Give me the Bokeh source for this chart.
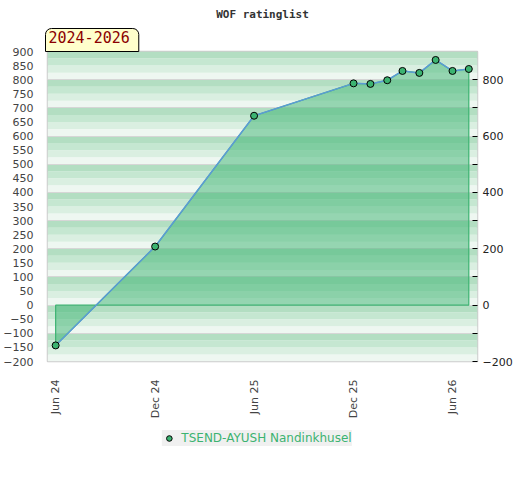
import numpy as np
import pandas as pd
from bokeh.plotting import figure
from bokeh.layouts import column
from bokeh.models import (Range1d, LinearAxis, FixedTicker, DatetimeTickFormatter,
                          Title, Legend, LegendItem, ColumnDataSource)
from bokeh.embed import file_html
from bokeh.resources import INLINE

# ---- data ----
dates = ["2024-06-01", "2024-12-01", "2025-06-01", "2025-12-01", "2026-01-01",
         "2026-02-01", "2026-03-01", "2026-04-01", "2026-05-01", "2026-06-01",
         "2026-07-01"]
ratings = [-143, 208, 672, 787, 785, 798, 831, 824, 870, 831, 838]
tick_dates = ["2024-06-01", "2024-12-01", "2025-06-01", "2025-12-01", "2026-06-01"]
player = "TSEND-AYUSH Nandinkhusel"
period = "2024-2026"
chart_title = "WOF ratinglist"
y_min, y_max = -200, 900
left_ticks = list(range(-200, 901, 50))
right_ticks = list(range(-200, 801, 200))
right_minor = list(range(-100, 801, 200))

xd = pd.to_datetime(dates)
x_start = xd[0] - pd.Timedelta(days=15)
x_end = xd[-1] + pd.Timedelta(days=16)

p = figure(x_axis_type="datetime", frame_width=430, frame_height=310,
           min_border_left=37, min_border_right=37, min_border_top=0,
           min_border_bottom=0,
           x_range=Range1d(x_start, x_end), y_range=Range1d(y_min, y_max),
           toolbar_location=None, output_backend="svg")
p.outline_line_color = "#cccccc"
p.outline_line_width = 1.5
p.xgrid.visible = False
p.ygrid.visible = False

# ---- background stripes ----
stripe_colors = ["#eef7f1", "#daefe1", "#c5e7d1", "#b3dec2"]
bottoms = np.arange(y_min, y_max, 25)
cols = [stripe_colors[int(((b - y_min) // 25) % 4)] for b in bottoms]
p.quad(left=x_start, right=x_end, bottom=bottoms, top=bottoms + 25,
       fill_color=cols, line_color=None)
p.hspan(y=list(range(y_min + 100, y_max, 100)), line_color="#d6d6d6", line_width=1)

# ---- area ----
area_x = [xd[0]] + list(xd) + [xd[-1]]
area_y = [0] + ratings + [0]
p.patch(area_x, area_y, fill_color="#3cb371", fill_alpha=0.5,
        line_color="#3cb371", line_width=1.2)

src = ColumnDataSource(dict(x=xd, y=ratings))
p.line("x", "y", source=src, line_color="#5b9bd5", line_width=1.5)
p.scatter("x", "y", source=src, size=7, fill_color="#3cb371",
          line_color="black", line_width=1)

# ---- axes ----
ya = p.yaxis[0]
ya.ticker = FixedTicker(ticks=left_ticks)
ya.axis_line_color = None
ya.major_tick_line_color = None
ya.minor_tick_line_color = None
ya.major_label_text_font = "DejaVu Sans"
ya.major_label_text_font_size = "11px"
ya.major_label_text_color = "#444444"
ya.major_label_standoff = 8

ra = LinearAxis(ticker=FixedTicker(ticks=right_ticks, minor_ticks=right_minor))
ra.axis_line_color = None
ra.major_tick_in = 5
ra.major_tick_out = 0
ra.minor_tick_in = 5
ra.minor_tick_out = 0
ra.major_tick_line_color = "black"
ra.minor_tick_line_color = "black"
ra.major_label_text_font = "DejaVu Sans"
ra.major_label_text_font_size = "11px"
ra.major_label_text_color = "#222222"
ra.major_label_standoff = 5
p.add_layout(ra, "right")

xa = p.xaxis[0]
tick_ms = [pd.Timestamp(d).value // 10**6 for d in tick_dates]
xa.ticker = FixedTicker(ticks=tick_ms)
fmt = "%b %y"
xa.formatter = DatetimeTickFormatter(days=fmt, months=fmt, years=fmt, hours=fmt)
xa.major_label_orientation = np.pi / 2
xa.axis_line_color = None
xa.major_tick_line_color = None
xa.minor_tick_line_color = None
xa.major_label_text_font = "DejaVu Sans"
xa.major_label_text_font_size = "11px"
xa.major_label_text_color = "#444444"
xa.major_label_standoff = 12

# ---- titles ----
badge = Title(text=period, align="left", text_font="DejaVu Sans Mono",
              text_font_size="15px", text_font_style="normal", text_color="#8b0000",
              background_fill_color="#ffffcc", border_line_color="black",
              border_line_width=1, padding=(3, 9, 2, 9), border_radius=(6, 6, 0, 0),
              standoff=0, offset=-2)
main = Title(text=chart_title, align="center", text_font="DejaVu Sans Mono",
             text_font_size="11px", text_font_style="bold", text_color="#333333",
             standoff=11)
p.add_layout(badge, "above")
p.add_layout(main, "above")

# ---- legend (separate strip below the chart) ----
p2 = figure(width=504, height=56, min_border=0, toolbar_location=None,
            output_backend="svg", x_axis_location=None, y_axis_location=None)
p2.outline_line_color = None
p2.xgrid.visible = False
p2.ygrid.visible = False
leg_r = p2.scatter("x", "y", source=src, size=7, fill_color="#3cb371",
                   line_color="black", line_width=1, visible=False)
legend = Legend(items=[LegendItem(label=player, renderers=[leg_r])],
                location="top_center", orientation="horizontal",
                background_fill_color="#f0f0f0", background_fill_alpha=1,
                border_line_color=None, label_text_color="#3cb371",
                label_text_font="DejaVu Sans", label_text_font_size="12px",
                glyph_width=14, glyph_height=16, label_height=16,
                label_standoff=6, padding=2, margin=9,
                inactive_fill_alpha=0)
p2.add_layout(legend, "center")

open("out.html", "w").write(file_html(column(p, p2, spacing=0), INLINE))
